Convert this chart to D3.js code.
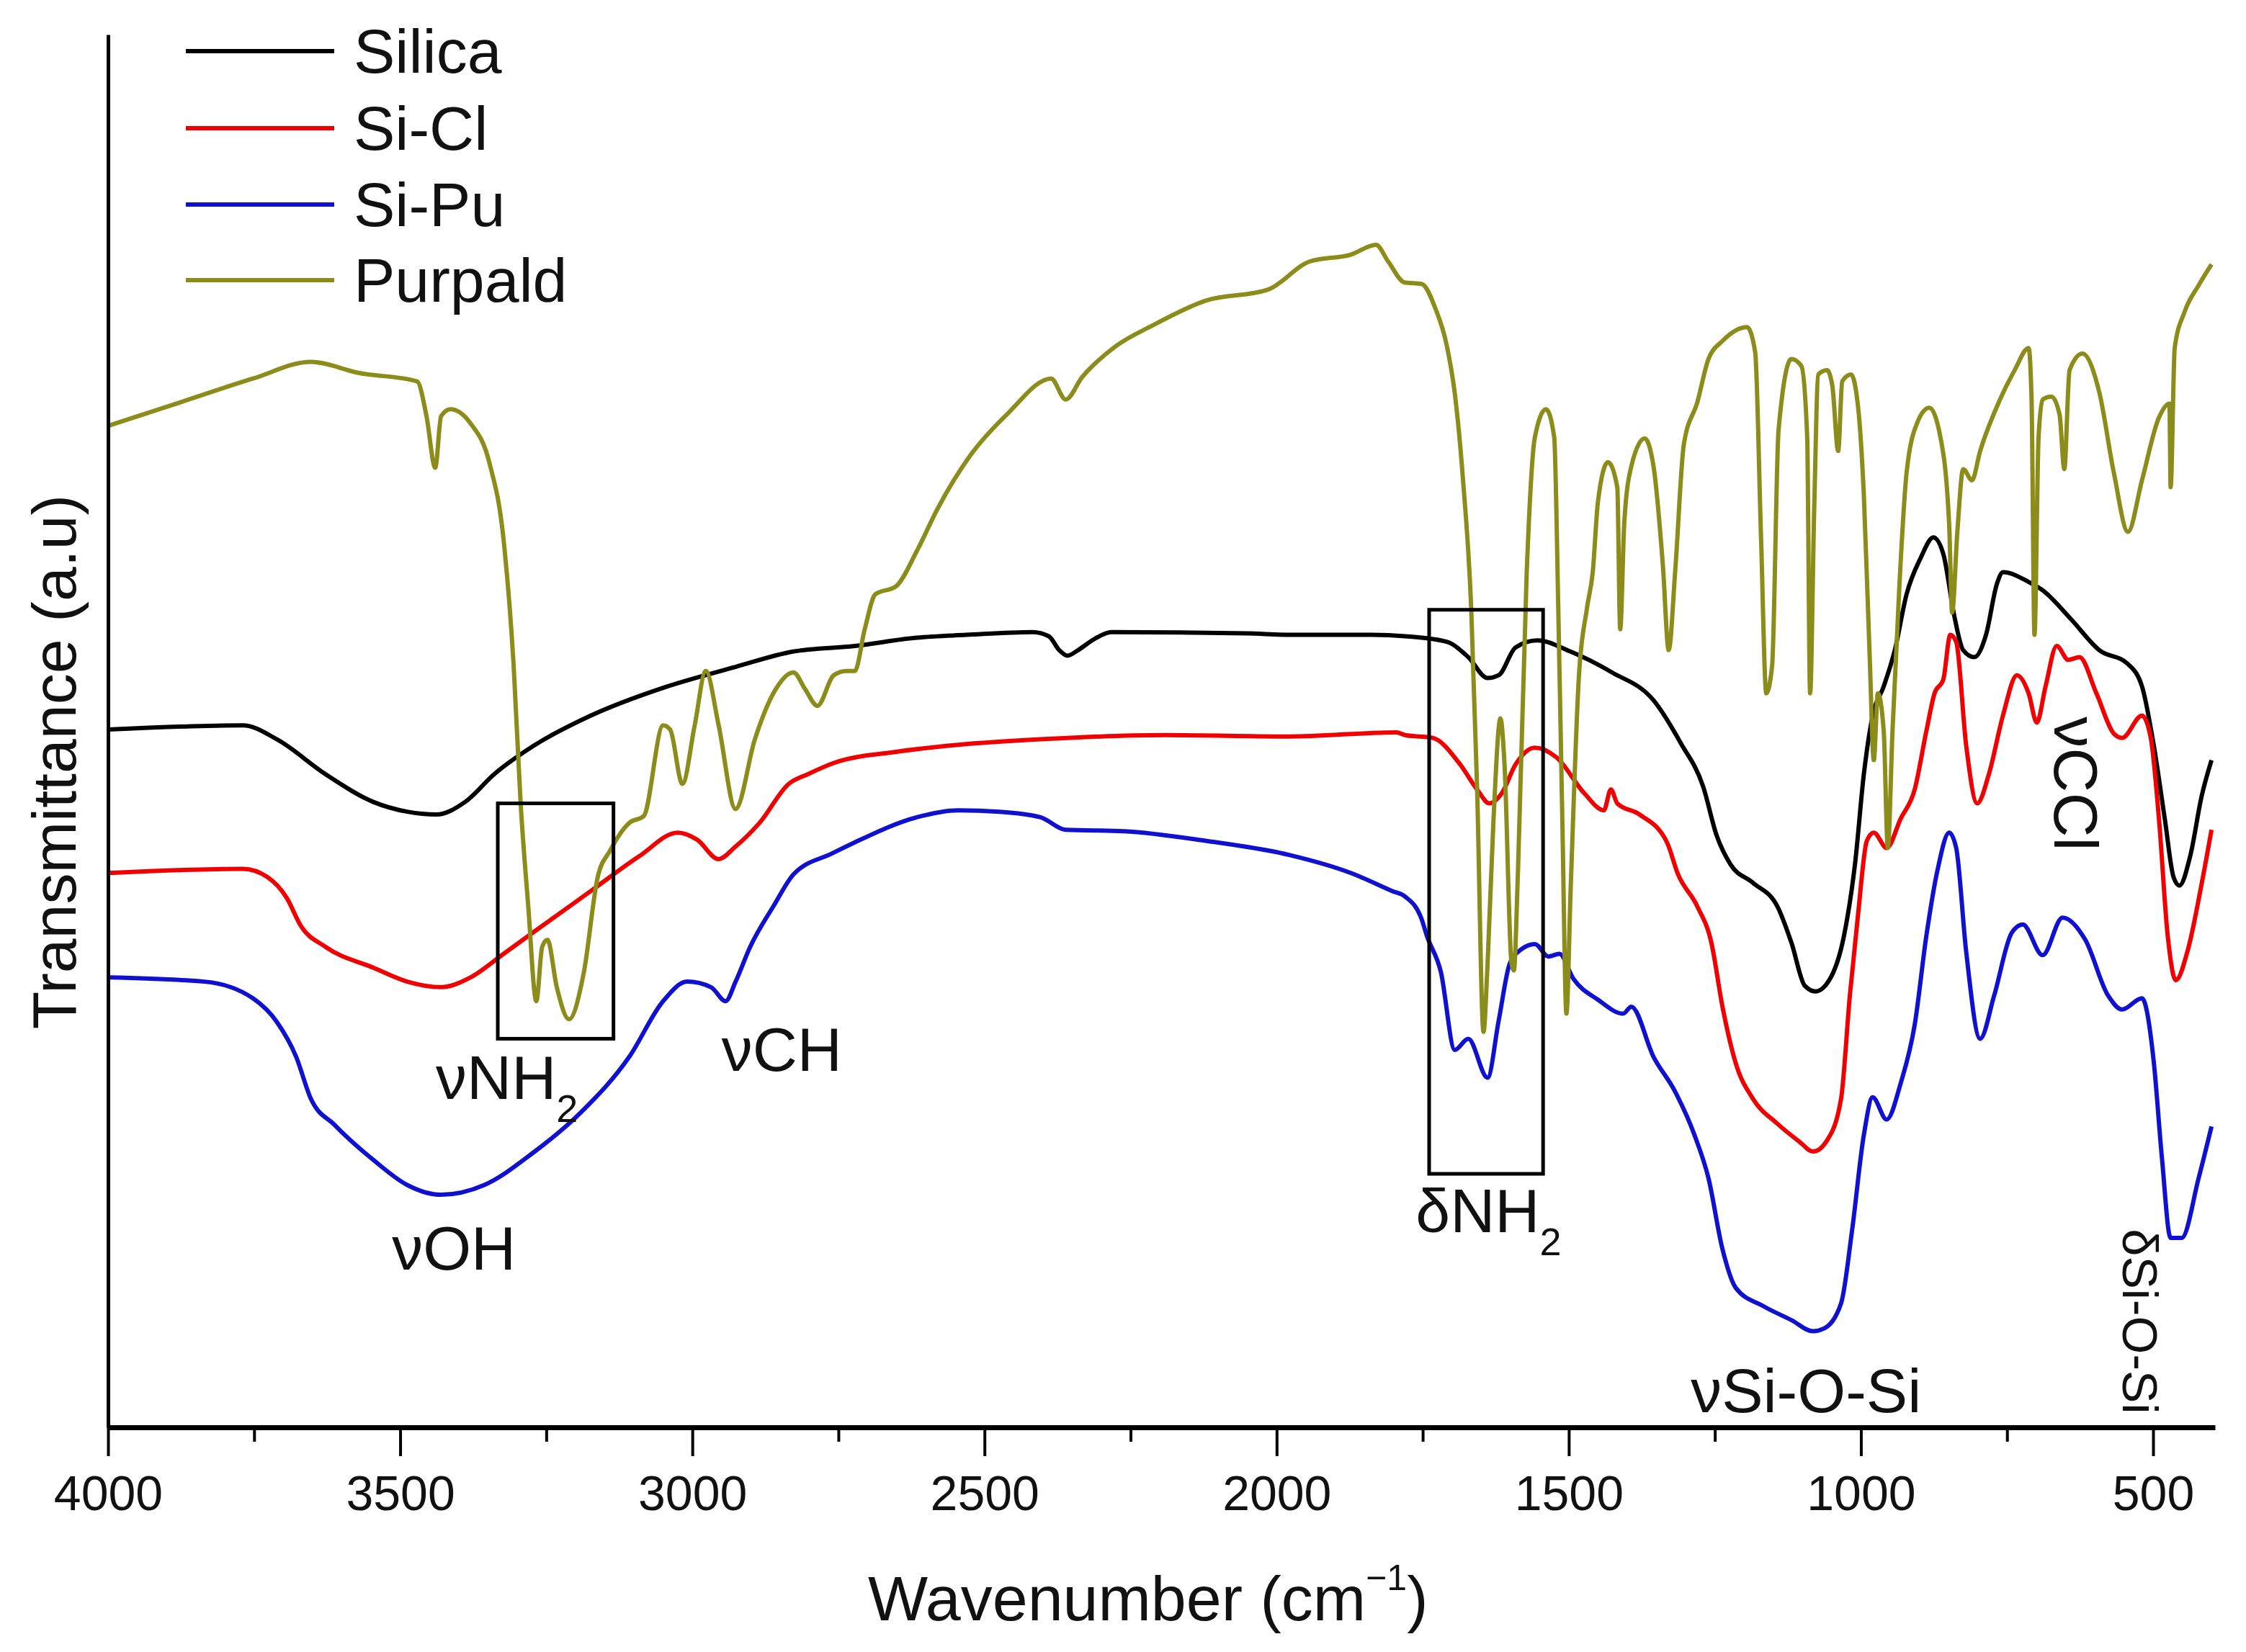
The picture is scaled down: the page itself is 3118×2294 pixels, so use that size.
<!DOCTYPE html>
<html>
<head>
<meta charset="utf-8">
<script src="https://cdn.jsdelivr.net/npm/d3@7"></script>
<style>
  body { margin: 0; background: #fff; }
  text { font-family: "Liberation Sans", Arial, sans-serif; fill: #111; }
</style>
</head>
<body>
<svg id="chart" width="3118" height="2294"></svg>
<script>
// FTIR spectra, wavenumber (cm-1) vs transmittance (arbitrary offset units)
var silica = [[4000,50.1],[3769,50.4],[3711,49.4],[3628,46.9],[3546,44.9],[3488,44.2],[3438,44.0],[3389,44.9],[3339,46.9],[3273,48.9],[3174,51.1],[3050,53.1],[2926,54.6],[2828,55.7],[2722,56.1],[2616,56.7],[2531,56.9],[2418,57.1],[2390,56.8],[2372,55.8],[2358,55.4],[2340,55.8],[2312,56.6],[2283,57.1],[2050,57.0],[1979,56.9],[1837,56.9],[1780,56.8],[1709,56.4],[1672,55.3],[1639,53.8],[1620,54.0],[1591,56.0],[1554,56.5],[1497,55.7],[1426,54.2],[1355,52.2],[1308,49.1],[1270,46.0],[1247,42.5],[1223,40.4],[1185,39.1],[1143,37.4],[1119,34.8],[1096,31.7],[1078,31.3],[1053,32.2],[1029,35.3],[1010,40.5],[995,46.9],[980,51.1],[961,53.2],[942,55.8],[922,59.8],[898,62.4],[876,63.9],[859,62.7],[840,58.2],[825,55.8],[806,55.3],[786,56.9],[767,60.6],[757,61.4],[713,60.7],[689,60.1],[640,58.0],[592,55.8],[543,54.8],[519,53.2],[499,49.0],[480,43.7],[465,39.5],[455,38.9],[436,41.1],[417,45.3],[400,47.9]];

var siCl = [[4000,39.8],[3769,40.1],[3727,39.5],[3694,38.0],[3670,36.0],[3628,34.5],[3546,33.0],[3488,32.0],[3430,31.6],[3380,32.3],[3323,34.0],[3257,36.0],[3174,38.5],[3091,41.0],[3025,42.7],[2992,42.2],[2955,40.8],[2926,41.7],[2885,43.4],[2835,46.2],[2802,46.9],[2758,47.7],[2651,48.5],[2545,49.0],[2404,49.4],[2191,49.7],[1979,49.6],[1795,49.9],[1780,49.7],[1733,49.5],[1686,47.6],[1657,45.8],[1636,44.8],[1615,45.5],[1591,47.6],[1558,48.8],[1521,48.1],[1473,45.5],[1440,44.3],[1428,45.8],[1417,44.8],[1379,44.0],[1332,42.0],[1313,39.7],[1280,37.4],[1256,34.8],[1237,30.2],[1214,26.1],[1185,23.6],[1143,21.8],[1105,20.5],[1082,19.8],[1058,20.6],[1034,23.6],[1019,31.0],[1005,36.8],[990,42.1],[978,42.7],[956,41.6],[932,43.7],[908,45.8],[888,50.0],[874,52.7],[859,53.7],[847,56.9],[837,56.4],[820,49.0],[801,44.8],[781,46.9],[757,51.1],[733,54.0],[713,52.7],[699,50.6],[684,53.2],[665,56.1],[645,55.1],[626,55.3],[597,52.7],[567,49.8],[553,49.5],[519,51.1],[504,49.5],[490,43.7],[475,35.3],[461,32.1],[441,34.2],[417,39.0],[400,42.9]];

var siPu = [[4000,32.3],[3835,32.0],[3752,30.8],[3711,29.1],[3678,26.6],[3653,23.6],[3612,21.7],[3546,19.2],[3488,17.4],[3430,16.7],[3356,17.4],[3273,19.7],[3191,22.6],[3108,26.6],[3050,30.6],[3009,32.0],[2968,31.6],[2943,30.6],[2926,32.0],[2901,34.5],[2860,37.5],[2827,39.7],[2761,41.2],[2722,42.0],[2616,43.8],[2545,44.3],[2474,44.2],[2404,43.8],[2361,42.9],[2262,42.8],[2120,42.1],[1979,41.1],[1873,39.8],[1802,38.5],[1780,38.1],[1752,36.5],[1743,35.3],[1719,32.7],[1695,27.1],[1672,27.9],[1639,25.1],[1620,29.2],[1601,33.3],[1582,34.3],[1558,34.7],[1535,33.8],[1516,34.0],[1492,32.2],[1450,30.7],[1407,29.7],[1393,30.2],[1355,26.6],[1318,24.1],[1285,21.0],[1261,17.9],[1237,12.8],[1214,10.0],[1167,8.7],[1119,7.7],[1082,6.9],[1063,7.1],[1034,8.9],[1015,14.2],[995,21.0],[980,23.7],[956,22.1],[932,24.7],[908,28.9],[888,35.3],[869,40.0],[849,42.7],[837,41.6],[820,34.2],[796,27.9],[772,31.0],[742,35.5],[723,36.1],[689,33.9],[655,36.6],[616,35.0],[577,31.0],[553,30.0],[519,30.8],[499,26.3],[485,19.4],[470,13.6],[451,13.6],[422,17.9],[400,21.6]];

var purpald = [[4000,71.9],[3876,73.6],[3752,75.3],[3653,76.5],[3570,75.7],[3471,75.1],[3455,72.6],[3440,68.9],[3430,72.6],[3414,73.1],[3380,72.1],[3347,69.2],[3323,63.7],[3306,54.8],[3294,44.9],[3281,37.5],[3267,30.6],[3257,34.5],[3248,35.0],[3232,31.6],[3211,29.3],[3186,32.6],[3162,39.5],[3141,41.4],[3108,43.4],[3083,43.9],[3050,50.4],[3038,50.1],[3017,46.2],[2996,50.4],[2977,54.3],[2955,50.4],[2926,44.4],[2893,49.4],[2860,52.8],[2827,54.2],[2807,53.0],[2786,51.8],[2758,54.0],[2736,54.3],[2722,54.3],[2705,57.3],[2687,59.8],[2651,60.4],[2616,62.9],[2581,65.9],[2524,69.8],[2460,72.8],[2386,75.3],[2361,73.8],[2333,75.4],[2276,77.6],[2213,79.1],[2121,80.9],[2014,81.7],[1944,83.7],[1873,84.2],[1830,84.9],[1809,83.7],[1781,82.2],[1752,82.1],[1728,80.3],[1709,77.7],[1695,74.2],[1681,68.0],[1667,58.8],[1657,46.0],[1646,28.4],[1639,33.3],[1629,43.5],[1617,50.9],[1610,47.6],[1598,33.3],[1594,32.8],[1587,39.9],[1572,61.4],[1558,71.1],[1539,73.1],[1525,71.1],[1518,58.8],[1511,43.5],[1504,29.7],[1497,38.4],[1483,53.7],[1469,58.8],[1459,61.4],[1450,66.5],[1433,69.3],[1417,67.5],[1412,57.3],[1405,65.0],[1393,69.0],[1370,71.0],[1355,69.0],[1339,61.9],[1329,55.8],[1318,61.4],[1303,70.6],[1280,73.6],[1261,76.7],[1237,78.0],[1195,79.0],[1181,77.2],[1171,63.9],[1162,52.7],[1152,54.7],[1141,71.6],[1119,76.7],[1102,76.2],[1092,71.1],[1087,52.7],[1080,65.9],[1073,75.6],[1058,75.9],[1049,74.8],[1039,70.1],[1032,75.1],[1017,75.6],[1005,73.3],[995,66.9],[985,55.3],[978,47.9],[971,52.7],[961,50.0],[954,41.6],[946,50.0],[934,60.6],[922,68.5],[903,72.2],[883,73.2],[864,71.1],[849,64.8],[844,58.5],[835,64.3],[825,68.8],[810,68.0],[796,70.1],[762,73.8],[737,75.9],[713,77.5],[708,73.8],[703,56.9],[696,71.1],[689,73.8],[674,74.0],[660,72.7],[652,68.8],[643,75.9],[621,77.1],[592,74.3],[567,68.5],[543,64.3],[519,68.0],[490,72.5],[472,73.5],[470,67.5],[463,77.5],[446,80.1],[422,82.0],[400,83.5]];

var seriesNames = ["Silica", "Si-Cl", "Si-Pu", "Purpald"];
var seriesColors = ["#000000", "#f00000", "#1010d0", "#8c8c1a"];
var seriesData = [silica, siCl, siPu, purpald];

var majorTicks = [4000, 3500, 3000, 2500, 2000, 1500, 1000, 500];
var minorTicks = [3750, 3250, 2750, 2250, 1750, 1250, 750];

// boxes around the NH2 bands: [wnFrom, wnTo, vTop, vBottom]
var boxes = [[3333, 3135, 44.8, 27.9], [1739, 1544, 58.7, 18.2]];

// band labels anchored at (wavenumber, value)
var bandLabels = [
  {t: "\u03bdNH", sub: "2", wn: 3439, v: 23.6, anchor: "start"},
  {t: "\u03bdCH", wn: 2847, v: 25.6, anchor: "middle"},
  {t: "\u03bdOH", wn: 3408, v: 11.3, anchor: "middle"},
  {t: "\u03b4NH", sub: "2", wn: 1762, v: 14.0, anchor: "start"},
  {t: "\u03bdSi-O-Si", wn: 1094, v: 1.1, anchor: "middle"},
  {t: "\u03bdCCl", wn: 669, v: 46.2, anchor: "middle", rot: true},
  {t: "\u03b4Si-O-Si", wn: 552, v: 7.6, anchor: "middle", rot: true, small: true}
];

var svg = d3.select("#chart");
svg.append("rect").attr("width", 3118).attr("height", 2294).attr("fill", "#fff");

var x = d3.scaleLinear().domain([4000, 394]).range([150, 3075]);
var y = d3.scaleLinear().domain([0, 100]).range([1982, 48]);

var line = d3.line()
  .x(function(d) { return x(d[0]); })
  .y(function(d) { return y(d[1]); })
  .curve(d3.curveMonotoneX);

svg.selectAll(".spec")
  .data(seriesData)
.enter().append("path")
  .attr("class", "spec")
  .attr("d", line)
  .attr("fill", "none")
  .attr("stroke", function(d, i) { return seriesColors[i]; })
  .attr("stroke-width", 6)
  .attr("stroke-linejoin", "round");

// boxes
svg.selectAll(".box")
  .data(boxes)
.enter().append("rect")
  .attr("class", "box")
  .attr("x", function(d) { return x(d[0]); })
  .attr("y", function(d) { return y(d[2]); })
  .attr("width", function(d) { return x(d[1]) - x(d[0]); })
  .attr("height", function(d) { return y(d[3]) - y(d[2]); })
  .attr("fill", "none")
  .attr("stroke", "#000")
  .attr("stroke-width", 5);

// band labels
bandLabels.forEach(function(b) {
  var g = svg.append("g")
    .attr("transform", "translate(" + x(b.wn) + "," + y(b.v) + ")" + (b.rot ? " rotate(90)" : ""));
  var txt = g.append("text")
    .attr("text-anchor", b.anchor)
    .attr("font-size", b.small ? 68 : 86)
    .text(b.t);
  if (b.sub) {
    txt.append("tspan").attr("font-size", 54).attr("dy", 32).text(b.sub);
  }
});

// axes
var xAxis = svg.append("g")
  .attr("transform", "translate(0," + y(0) + ")")
  .call(d3.axisBottom(x).tickValues(majorTicks).tickSize(40).tickSizeOuter(0).tickPadding(27).tickFormat(d3.format("d")));
xAxis.select(".domain").attr("stroke-width", 7);
xAxis.selectAll(".tick line").attr("stroke-width", 4);
xAxis.selectAll(".tick text").attr("font-size", 68).attr("font-family", "Liberation Sans, Arial, sans-serif").attr("fill", "#222");

var xMinor = svg.append("g")
  .attr("transform", "translate(0," + y(0) + ")")
  .call(d3.axisBottom(x).tickValues(minorTicks).tickSize(20).tickFormat(""));
xMinor.select(".domain").remove();
xMinor.selectAll(".tick line").attr("stroke-width", 4);

var yAxis = svg.append("g")
  .attr("transform", "translate(" + x(4000) + ",0)")
  .call(d3.axisLeft(y).ticks(0).tickSizeOuter(0));
yAxis.select(".domain").attr("stroke-width", 5);

// axis titles
var xt = svg.append("text")
  .attr("x", 1205).attr("y", 2250)
  .attr("font-size", 88)
  .text("Wavenumber (cm");
xt.append("tspan").attr("font-size", 50).attr("dy", -42).text("\u22121");
xt.append("tspan").attr("dy", 42).text(")");

svg.append("text")
  .attr("transform", "translate(105,1058) rotate(-90)")
  .attr("text-anchor", "middle")
  .attr("font-size", 86)
  .text("Transmittance (a.u)");

// legend
var legendY = [71, 178, 284, 389];
var legend = svg.selectAll(".leg")
  .data(seriesNames)
.enter().append("g")
  .attr("class", "leg")
  .attr("transform", function(d, i) { return "translate(0," + legendY[i] + ")"; });
legend.append("line")
  .attr("x1", 258).attr("x2", 464)
  .attr("stroke", function(d, i) { return seriesColors[i]; })
  .attr("stroke-width", 6);
legend.append("text")
  .attr("x", 491).attr("dy", "0.35em")
  .attr("font-size", 86)
  .text(function(d) { return d; });
</script>
</body>
</html>
